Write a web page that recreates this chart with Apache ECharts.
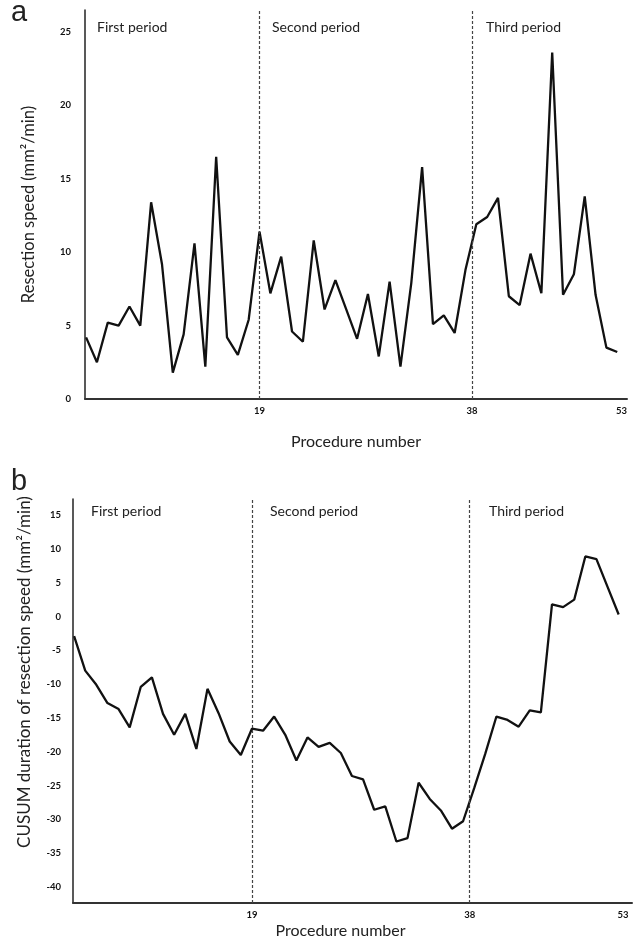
<!DOCTYPE html>
<html>
<head>
<meta charset="utf-8">
<script src="https://cdn.jsdelivr.net/npm/echarts@6/dist/echarts.min.js"></script>
<style>html,body{margin:0;padding:0;background:#fff}#c{width:633px;height:949px}</style>
</head>
<body>
<div id="c"></div>
<script>
// procedure index (1..50) of each plotted point
const procIndex = [1,2,3,4,5,6,7,8,9,10,11,12,13,14,15,16,17,18,19,20,21,22,23,24,25,26,27,28,29,30,31,32,33,34,35,36,37,38,39,40,41,42,43,44,45,46,47,48,49,50];
// panel a: resection speed (mm²/min)
const speed = [4.2,2.5,5.2,5.0,6.3,5.0,13.4,9.2,1.8,4.4,10.6,2.2,16.5,4.2,3.0,5.4,11.4,7.2,9.7,4.6,3.9,10.8,6.1,8.1,6.1,4.1,7.15,2.9,8.0,2.2,7.9,15.8,5.1,5.7,4.5,8.8,11.9,12.4,13.7,7.0,6.4,9.9,7.2,23.6,7.1,8.5,13.8,7.1,3.5,3.2];
// panel b: CUSUM of resection speed
const cusum = [-2.9,-8.0,-10.1,-12.8,-13.7,-16.4,-10.4,-9.0,-14.4,-17.5,-14.4,-19.6,-10.7,-14.3,-18.5,-20.5,-16.6,-16.9,-14.8,-17.5,-21.3,-17.9,-19.3,-18.7,-20.2,-23.6,-24.1,-28.6,-28.1,-33.3,-32.8,-24.6,-27.0,-28.7,-31.4,-30.3,-25.4,-20.3,-14.8,-15.3,-16.3,-13.9,-14.2,1.8,1.4,2.5,8.9,8.5,4.4,0.3];
// x tick labels and where they sit on the index scale
const xTickPos = [17, 36.6, 50.4];
const xTickLabels = ['19', '38', '53'];
// period boundaries (dashed lines) on the index scale
const boundaries = [17, 36.6];
const periodNames = ['First period', 'Second period', 'Third period'];
const yTicksA = [0, 5, 10, 15, 20, 25];
const yTicksB = [-40, -35, -30, -25, -20, -15, -10, -5, 0, 5, 10, 15];

const FONT = 'Lato';
const chart = echarts.init(document.getElementById('c'), null, {renderer: 'canvas'});

function xAxis(grid, min, max, nameGap, namePad) {
  return {
    type: 'value', gridIndex: grid, min: min, max: max,
    name: 'Procedure number', nameLocation: 'middle', nameGap: nameGap,
    nameTextStyle: {fontFamily: FONT, fontSize: 16, color: '#222', padding: namePad},
    axisLine: {show: true, onZero: false, lineStyle: {color: '#333', width: 2}},
    axisTick: {show: false},
    splitLine: {show: false},
    axisLabel: {
      customValues: xTickPos,
      formatter: v => { const i = xTickPos.indexOf(v); return i >= 0 ? xTickLabels[i] : ''; },
      fontFamily: FONT, fontWeight: 'bold', fontSize: 9.5, color: '#111', margin: 7
    }
  };
}
function yAxis(grid, min, max, ticks, name, nameSize, nameGap, namePad, margin) {
  return {
    type: 'value', gridIndex: grid, min: min, max: max,
    name: name, nameLocation: 'middle', nameGap: nameGap,
    nameTextStyle: {fontFamily: FONT, fontSize: nameSize, color: '#222', padding: namePad},
    axisLine: {show: true, onZero: false, lineStyle: {color: '#222', width: 1.5}},
    axisTick: {show: false},
    splitLine: {show: false},
    axisLabel: {customValues: ticks, fontFamily: FONT, fontWeight: 'bold', fontSize: 9.5, color: '#111', margin: margin}
  };
}
function dashLines() {
  return {
    silent: true, symbol: 'none', label: {show: false},
    lineStyle: {color: '#444', width: 1.2, type: [3, 2]},
    data: boundaries.map(b => ({xAxis: b}))
  };
}

const txt = (t, x, y, size, fam) => ({type: 'text', left: x, top: y, style: {text: t, fontFamily: fam || FONT, fontSize: size || 14, fill: '#222'}});

chart.setOption({
  animation: false,
  backgroundColor: '#fff',
  grid: [
    {left: 85, top: 10, width: 542, height: 389},
    {left: 73, top: 499, width: 559, height: 404}
  ],
  xAxis: [xAxis(0, 0.9, 50.9, 35, [0, 0, 0, 0]), xAxis(1, 0.9, 51.2, 20, [0, 24, 0, 0])],
  yAxis: [
    yAxis(0, 0, 26.5, yTicksA, 'Resection speed (mm²/min)', 16.5, 48, [0, 0, 0, 0], 14),
    yAxis(1, -42.4, 17.4, yTicksB, 'CUSUM duration of resection speed (mm²/min)', 17, 40, [0, 0, 0, 58], 12)
  ],
  series: [
    {type: 'line', xAxisIndex: 0, yAxisIndex: 0, data: procIndex.map((p, i) => [p, speed[i]]),
     showSymbol: false, lineStyle: {color: '#111', width: 2.3}, markLine: dashLines()},
    {type: 'line', xAxisIndex: 1, yAxisIndex: 1, data: procIndex.map((p, i) => [p, cusum[i]]),
     showSymbol: false, lineStyle: {color: '#111', width: 2.3}, markLine: dashLines()}
  ],
  graphic: [
    txt('a', 11, -2, 29, 'Liberation Sans'),
    txt(periodNames[0], 97, 20), txt(periodNames[1], 272, 20), txt(periodNames[2], 486, 20),
    txt('b', 11, 467, 29, 'Liberation Sans'),
    txt(periodNames[0], 91, 504), txt(periodNames[1], 270, 504), txt(periodNames[2], 489, 504)
  ]
});
</script>
</body>
</html>
